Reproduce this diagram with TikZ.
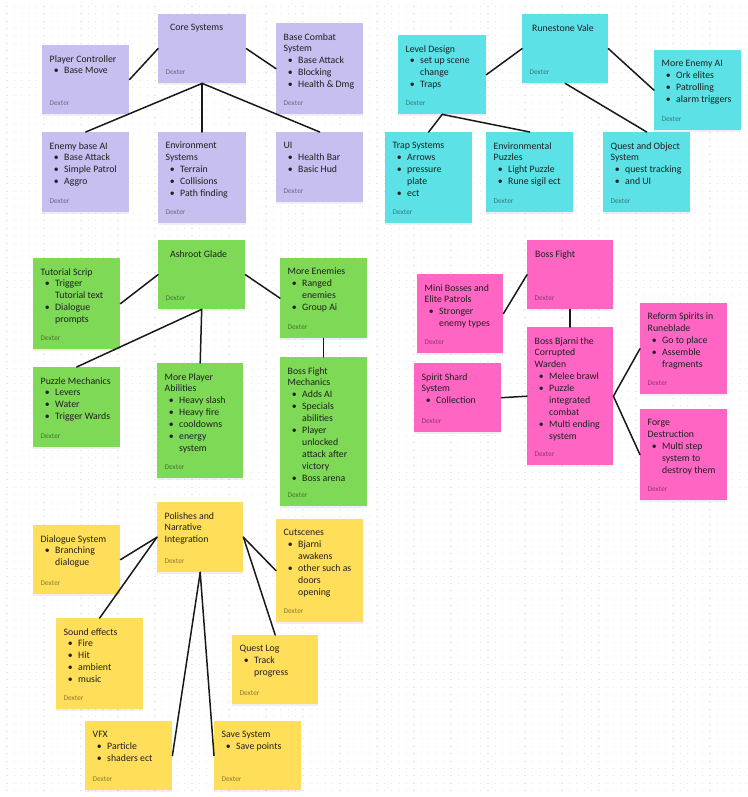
\documentclass[tikz,border=0pt]{standalone}
\usepackage{fontspec}
\setmainfont{Carlito}
\usetikzlibrary{shadows}

\definecolor{notepurple}{HTML}{C6BFEF}
\definecolor{notecyan}{HTML}{5CE1E6}
\definecolor{notegreen}{HTML}{7ED957}
\definecolor{notepink}{HTML}{FF66C4}
\definecolor{noteyellow}{HTML}{FFDE59}

\newcommand{\itm}[1]{\hspace*{6.5pt}\makebox[0pt]{\textbullet}\hspace*{8pt}#1}
\newcommand{\cnt}[1]{\hspace*{14.5pt}#1}

\tikzset{
  note/.style={fill=#1, anchor=north west, minimum width=87, minimum height=69, inner sep=0,
    drop shadow={shadow xshift=0pt, shadow yshift=-2pt, opacity=.12},
    label={[dexter]south west:Dexter}},
  dexter/.style={anchor=south west, inner sep=0, xshift=7.5pt, yshift=9pt,
    font=\fontsize{7.3}{8}\selectfont, text=black, text opacity=.45},
  body/.style={anchor=north west, inner sep=0, align=left,
    font=\fontsize{9.8}{11.9}\selectfont, text=black!88},
  link/.style={line width=1.5pt, black!90, line cap=round},
  griddot/.style={black!10, line width=1.1pt, dash pattern=on 1.1pt off 6.3pt}
}

\begin{document}
\begin{tikzpicture}[x=1pt, y=-1pt]

  \fill[white] (0,0) rectangle (747,797);
  \useasboundingbox (0,0) rectangle (747,797);
  \foreach \r in {0,...,106}
    \draw[griddot] (6.4, 6.3+7.4*\r) -- (747, 6.3+7.4*\r);

  % core systems
  \node[note=notepurple, minimum width=88] (core) at (158,14) {};
  \node[note=notepurple] (pc) at (42,45) {};
  \node[note=notepurple, minimum height=91] (bcs) at (276,23) {};
  \node[note=notepurple, minimum height=80] (eai) at (42,132) {};
  \node[note=notepurple, minimum width=88, minimum height=91] (env) at (158,132) {};
  \node[note=notepurple, minimum height=70] (ui) at (276,132) {};

  \node[body] (core-t) at ([shift={(12,10)}]core.north west) {Core Systems};
  \node[body] (pc-t) at ([shift={(7.5,10)}]pc.north west) {Player Controller\\\itm{Base Move}};
  \node[body] (bcs-t) at ([shift={(7.5,10)}]bcs.north west) {Base Combat\\System\\\itm{Base Attack}\\\itm{Blocking}\\\itm{Health \& Dmg}};
  \node[body] (eai-t) at ([shift={(7.5,10)}]eai.north west) {Enemy base AI\\\itm{Base Attack}\\\itm{Simple Patrol}\\\itm{Aggro}};
  \node[body] (env-t) at ([shift={(7.5,10)}]env.north west) {Environment\\Systems\\\itm{Terrain}\\\itm{Collisions}\\\itm{Path finding}};
  \node[body] (ui-t) at ([shift={(7.5,10)}]ui.north west) {UI\\\itm{Health Bar}\\\itm{Basic Hud}};

  \draw[link] (pc.east) -- (core.west);
  \draw[link] (core.east) -- (bcs.west);
  \draw[link] (core.south) -- (eai.north);
  \draw[link] (core.south) -- (env.north);
  \draw[link] (core.south) -- (ui.north);

  % runestone vale
  \node[note=notecyan, minimum width=86] (rv) at (522,14) {};
  \node[note=notecyan, minimum width=88, minimum height=79] (ld) at (398,35) {};
  \node[note=notecyan, minimum height=80] (mea) at (654,50) {};
  \node[note=notecyan, minimum height=91] (ts) at (385,132) {};
  \node[note=notecyan, minimum height=80] (ep) at (486,132) {};
  \node[note=notecyan, minimum height=80] (qos) at (603,132) {};

  \node[body] (rv-t) at ([shift={(10,10)}]rv.north west) {Runestone Vale};
  \node[body] (ld-t) at ([shift={(7.5,10)}]ld.north west) {Level Design\\\itm{set up scene}\\\cnt{change}\\\itm{Traps}};
  \node[body] (mea-t) at ([shift={(7.5,10)}]mea.north west) {More Enemy AI\\\itm{Ork elites}\\\itm{Patrolling}\\\itm{alarm triggers}};
  \node[body] (ts-t) at ([shift={(7.5,10)}]ts.north west) {Trap Systems\\\itm{Arrows}\\\itm{pressure}\\\cnt{plate}\\\itm{ect}};
  \node[body] (ep-t) at ([shift={(7.5,10)}]ep.north west) {Environmental\\Puzzles\\\itm{Light Puzzle}\\\itm{Rune sigil ect}};
  \node[body] (qos-t) at ([shift={(7.5,10)}]qos.north west) {Quest and Object\\System\\\itm{quest tracking}\\\itm{and UI}};

  \draw[link] (ld.east) -- (rv.west);
  \draw[link] (rv.east) -- (mea.west);
  \draw[link] (rv.south) -- (qos.north);
  \draw[link] (ld.south) -- (ts.north);
  \draw[link] (ld.south) -- (ep.north);

  % ashroot glade
  \node[note=notegreen] (ag) at (158,240) {};
  \node[note=notegreen, minimum height=91] (tut) at (33,258) {};
  \node[note=notegreen, minimum height=80] (me) at (280,258) {};
  \node[note=notegreen, minimum height=80] (pm) at (33,367) {};
  \node[note=notegreen, minimum width=86, minimum height=115] (mpa) at (157,363) {};
  \node[note=notegreen, minimum height=149] (bfm) at (280,357) {};

  \node[body] (ag-t) at ([shift={(12,10)}]ag.north west) {Ashroot Glade};
  \node[body] (tut-t) at ([shift={(7.5,10)}]tut.north west) {Tutorial Scrip\\\itm{Trigger}\\\cnt{Tutorial text}\\\itm{Dialogue}\\\cnt{prompts}};
  \node[body] (me-t) at ([shift={(7.5,10)}]me.north west) {More Enemies\\\itm{Ranged}\\\cnt{enemies}\\\itm{Group Ai}};
  \node[body] (pm-t) at ([shift={(7.5,10)}]pm.north west) {Puzzle Mechanics\\\itm{Levers}\\\itm{Water}\\\itm{Trigger Wards}};
  \node[body] (mpa-t) at ([shift={(7.5,10)}]mpa.north west) {More Player\\Abilities\\\itm{Heavy slash}\\\itm{Heavy fire}\\\itm{cooldowns}\\\itm{energy}\\\cnt{system}};
  \node[body] (bfm-t) at ([shift={(7.5,10)}]bfm.north west) {Boss Fight\\Mechanics\\\itm{Adds AI}\\\itm{Specials}\\\cnt{abilities}\\\itm{Player}\\\cnt{unlocked}\\\cnt{attack after}\\\cnt{victory}\\\itm{Boss arena}};

  \draw[link] (tut.east) -- (ag.west);
  \draw[link] (ag.east) -- (me.west);
  \draw[link] (ag.south) -- (pm.north);
  \draw[link] (ag.south) -- (mpa.north);
  \draw[link] (me.south) -- (bfm.north);

  % boss fight
  \node[note=notepink, minimum width=86] (bf) at (527,240) {};
  \node[note=notepink, minimum width=86, minimum height=79] (mb) at (417,274) {};
  \node[note=notepink, minimum width=86, minimum height=138] (bj) at (527,327) {};
  \node[note=notepink] (ss) at (414,363) {};
  \node[note=notepink, minimum height=91] (rs) at (640,303) {};
  \node[note=notepink, minimum height=91] (fd) at (640,409) {};

  \node[body] (bf-t) at ([shift={(8,10)}]bf.north west) {Boss Fight};
  \node[body] (mb-t) at ([shift={(7.5,10)}]mb.north west) {Mini Bosses and\\Elite Patrols\\\itm{Stronger}\\\cnt{enemy types}};
  \node[body] (bj-t) at ([shift={(7.5,10)}]bj.north west) {Boss Bjarni the\\Corrupted\\Warden\\\itm{Melee brawl}\\\itm{Puzzle}\\\cnt{integrated}\\\cnt{combat}\\\itm{Multi ending}\\\cnt{system}};
  \node[body] (ss-t) at ([shift={(7.5,10)}]ss.north west) {Spirit Shard\\System\\\itm{Collection}};
  \node[body] (rs-t) at ([shift={(7.5,10)}]rs.north west) {Reform Spirits in\\Runeblade\\\itm{Go to place}\\\itm{Assemble}\\\cnt{fragments}};
  \node[body] (fd-t) at ([shift={(7.5,10)}]fd.north west) {Forge\\Destruction\\\itm{Multi step}\\\cnt{system to}\\\cnt{destroy them}};

  \draw[link] (mb.east) -- (bf.west);
  \draw[link] (bf.south) -- (bj.north);
  \draw[link] (ss.east) -- (bj.west);
  \draw[link] (bj.east) -- (rs.west);
  \draw[link] (bj.east) -- (fd.west);

  % polishes
  \node[note=noteyellow, minimum width=86, minimum height=70] (pol) at (157,502) {};
  \node[note=noteyellow] (ds) at (33,525) {};
  \node[note=noteyellow, minimum height=103] (cut) at (276,519) {};
  \node[note=noteyellow, minimum height=91] (sfx) at (56,618) {};
  \node[note=noteyellow, minimum width=86] (ql) at (232,635) {};
  \node[note=noteyellow] (vfx) at (85,721) {};
  \node[note=noteyellow] (save) at (214,721) {};

  \node[body] (pol-t) at ([shift={(7.5,10)}]pol.north west) {Polishes and\\Narrative\\Integration};
  \node[body] (ds-t) at ([shift={(7.5,10)}]ds.north west) {Dialogue System\\\itm{Branching}\\\cnt{dialogue}};
  \node[body] (cut-t) at ([shift={(7.5,10)}]cut.north west) {Cutscenes\\\itm{Bjarni}\\\cnt{awakens}\\\itm{other such as}\\\cnt{doors}\\\cnt{opening}};
  \node[body] (sfx-t) at ([shift={(7.5,10)}]sfx.north west) {Sound effects\\\itm{Fire}\\\itm{Hit}\\\itm{ambient}\\\itm{music}};
  \node[body] (ql-t) at ([shift={(7.5,10)}]ql.north west) {Quest Log\\\itm{Track}\\\cnt{progress}};
  \node[body] (vfx-t) at ([shift={(7.5,10)}]vfx.north west) {VFX\\\itm{Particle}\\\itm{shaders ect}};
  \node[body] (save-t) at ([shift={(7.5,10)}]save.north west) {Save System\\\itm{Save points}};

  \draw[link] (pol.west) -- (ds.east);
  \draw[link] (pol.west) -- (sfx.north);
  \draw[link] (pol.south) -- (vfx.east);
  \draw[link] (pol.south) -- (save.west);
  \draw[link] (pol.east) -- (cut.west);
  \draw[link] (pol.east) -- (ql.north);

\end{tikzpicture}
\end{document}
